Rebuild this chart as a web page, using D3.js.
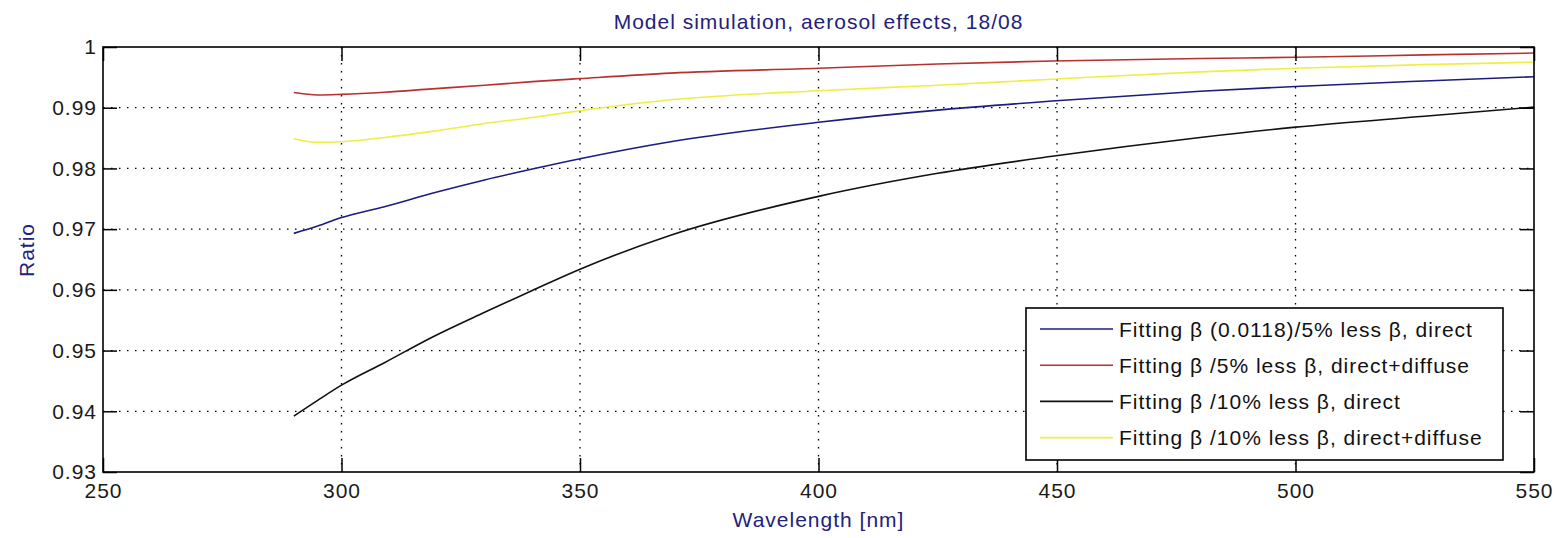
<!DOCTYPE html>
<html>
<head>
<meta charset="utf-8">
<script src="https://cdn.jsdelivr.net/npm/d3@7"></script>
<style>
  html, body { margin: 0; padding: 0; background: #fff; }
  svg text { font-family: "Liberation Sans", Arial, Helvetica, sans-serif; font-size: 21px; letter-spacing: 1px; }
</style>
</head>
<body>
<svg id="chart" width="1566" height="538"></svg>
<script>
// Wavelength samples [nm] and ratio curves
const wavelength = [290, 295, 300, 309, 319, 330, 340, 350, 369, 400, 425, 449, 480, 500, 527, 550];
const direct5   = [0.9693, 0.9705, 0.9719, 0.9737, 0.9759, 0.9781, 0.9799, 0.9816, 0.9844, 0.9876, 0.9896, 0.9911, 0.9927, 0.9935, 0.9944, 0.9951];
const diffuse5  = [0.9925, 0.9921, 0.9922, 0.99254, 0.9931, 0.9937, 0.99429, 0.9948, 0.9957, 0.9965, 0.9972, 0.9977, 0.9981, 0.9983, 0.9987, 0.9990];
const direct10  = [0.9392, 0.9418, 0.9443, 0.9480, 0.9522, 0.9563, 0.9599, 0.9634, 0.9690, 0.9754, 0.9792, 0.9820, 0.9851, 0.9868, 0.9886, 0.9901];
const diffuse10 = [0.9849, 0.9843, 0.9844, 0.9851, 0.9861, 0.9874, 0.9884, 0.9895, 0.9913, 0.9928, 0.9937, 0.9947, 0.9959, 0.9965, 0.9971, 0.9975];

const seriesNames = [
  "Fitting \u03b2 (0.0118)/5% less \u03b2, direct",
  "Fitting \u03b2 /5% less \u03b2, direct+diffuse",
  "Fitting \u03b2 /10% less \u03b2, direct",
  "Fitting \u03b2 /10% less \u03b2, direct+diffuse"
];
const seriesValues = [direct5, diffuse5, direct10, diffuse10];
const seriesColors = ["#1c1c80", "#b83030", "#111111", "#eeee44"];

const xTicks = [250, 300, 350, 400, 450, 500, 550];
const yTicks = [0.93, 0.94, 0.95, 0.96, 0.97, 0.98, 0.99, 1];
const yTickLabels = ["0.93", "0.94", "0.95", "0.96", "0.97", "0.98", "0.99", "1"];

const titleText = "Model simulation, aerosol effects, 18/08";
const xLabel = "Wavelength [nm]";
const yLabel = "Ratio";

// Layout
const plot = { left: 103, right: 1534, top: 47, bottom: 472 };
const labelColor = "#22227a";
const tickLen = 14;

const svg = d3.select("#chart");
const x = d3.scaleLinear().domain([250, 550]).range([plot.left, plot.right]);
const y = d3.scaleLinear().domain([0.93, 1]).range([plot.bottom, plot.top]);

// Dotted grid
const grid = svg.append("g").attr("stroke", "#000").attr("stroke-width", 1.3)
  .attr("stroke-dasharray", "1.5,6.5");
grid.selectAll("line.gx").data(xTicks.slice(1, -1)).join("line")
  .attr("x1", d => x(d)).attr("x2", d => x(d))
  .attr("y1", plot.top).attr("y2", plot.bottom);
grid.selectAll("line.gy").data(yTicks.slice(1, -1)).join("line")
  .attr("y1", d => y(d)).attr("y2", d => y(d))
  .attr("x1", plot.left).attr("x2", plot.right);

// Curves
const line = d3.line().x(d => x(d[0])).y(d => y(d[1])).curve(d3.curveMonotoneX);
seriesValues.forEach((vals, i) => {
  svg.append("path")
    .datum(wavelength.map((w, j) => [w, vals[j]]))
    .attr("fill", "none")
    .attr("stroke", seriesColors[i])
    .attr("stroke-width", 1.6)
    .attr("d", line);
});

// Axes: ticks point inward on all four sides
function styleAxis(g) {
  g.select(".domain").remove();
  g.selectAll(".tick line").attr("stroke", "#000").attr("stroke-width", 1.5);
  g.selectAll(".tick text").attr("fill", "#1a1a1a").style("font-size", "21px");
}
svg.append("g").attr("transform", `translate(0,${plot.bottom})`)
  .call(d3.axisBottom(x).tickValues(xTicks).tickSize(-tickLen).tickSizeOuter(0).tickPadding(11).tickFormat(d3.format("d")))
  .call(styleAxis);
svg.append("g").attr("transform", `translate(0,${plot.top})`)
  .call(d3.axisTop(x).tickValues(xTicks).tickSize(-tickLen).tickSizeOuter(0).tickFormat(""))
  .call(styleAxis);
svg.append("g").attr("transform", `translate(${plot.left},0)`)
  .call(d3.axisLeft(y).tickValues(yTicks).tickSize(-tickLen).tickSizeOuter(0).tickPadding(6)
    .tickFormat((d, i) => yTickLabels[i]))
  .call(styleAxis);
svg.append("g").attr("transform", `translate(${plot.right},0)`)
  .call(d3.axisRight(y).tickValues(yTicks).tickSize(-tickLen).tickSizeOuter(0).tickFormat(""))
  .call(styleAxis);

// Axes box
svg.append("rect")
  .attr("x", plot.left).attr("y", plot.top)
  .attr("width", plot.right - plot.left).attr("height", plot.bottom - plot.top)
  .attr("fill", "none").attr("stroke", "#000").attr("stroke-width", 1.6);

// Title and axis labels
svg.append("text").attr("x", (plot.left + plot.right) / 2).attr("y", 29)
  .attr("text-anchor", "middle").attr("fill", labelColor).text(titleText);
svg.append("text").attr("x", (plot.left + plot.right) / 2).attr("y", 527)
  .attr("text-anchor", "middle").attr("fill", labelColor).text(xLabel);
svg.append("text").attr("transform", "translate(34,250) rotate(-90)")
  .attr("text-anchor", "middle").attr("fill", labelColor).text(yLabel);

// Legend
const legend = { x: 1026, y: 308, w: 477, h: 152, rowTop: 329, rowStep: 36.2 };
const lg = svg.append("g");
lg.append("rect").attr("x", legend.x).attr("y", legend.y)
  .attr("width", legend.w).attr("height", legend.h)
  .attr("fill", "#fff").attr("stroke", "#000").attr("stroke-width", 1.6);
seriesNames.forEach((name, i) => {
  const ry = legend.rowTop + i * legend.rowStep;
  lg.append("line").attr("x1", 1040).attr("x2", 1113).attr("y1", ry).attr("y2", ry)
    .attr("stroke", seriesColors[i]).attr("stroke-width", 1.6);
  lg.append("text").attr("x", 1119).attr("y", ry + 7.5).attr("fill", "#111").text(name);
});
</script>
</body>
</html>
